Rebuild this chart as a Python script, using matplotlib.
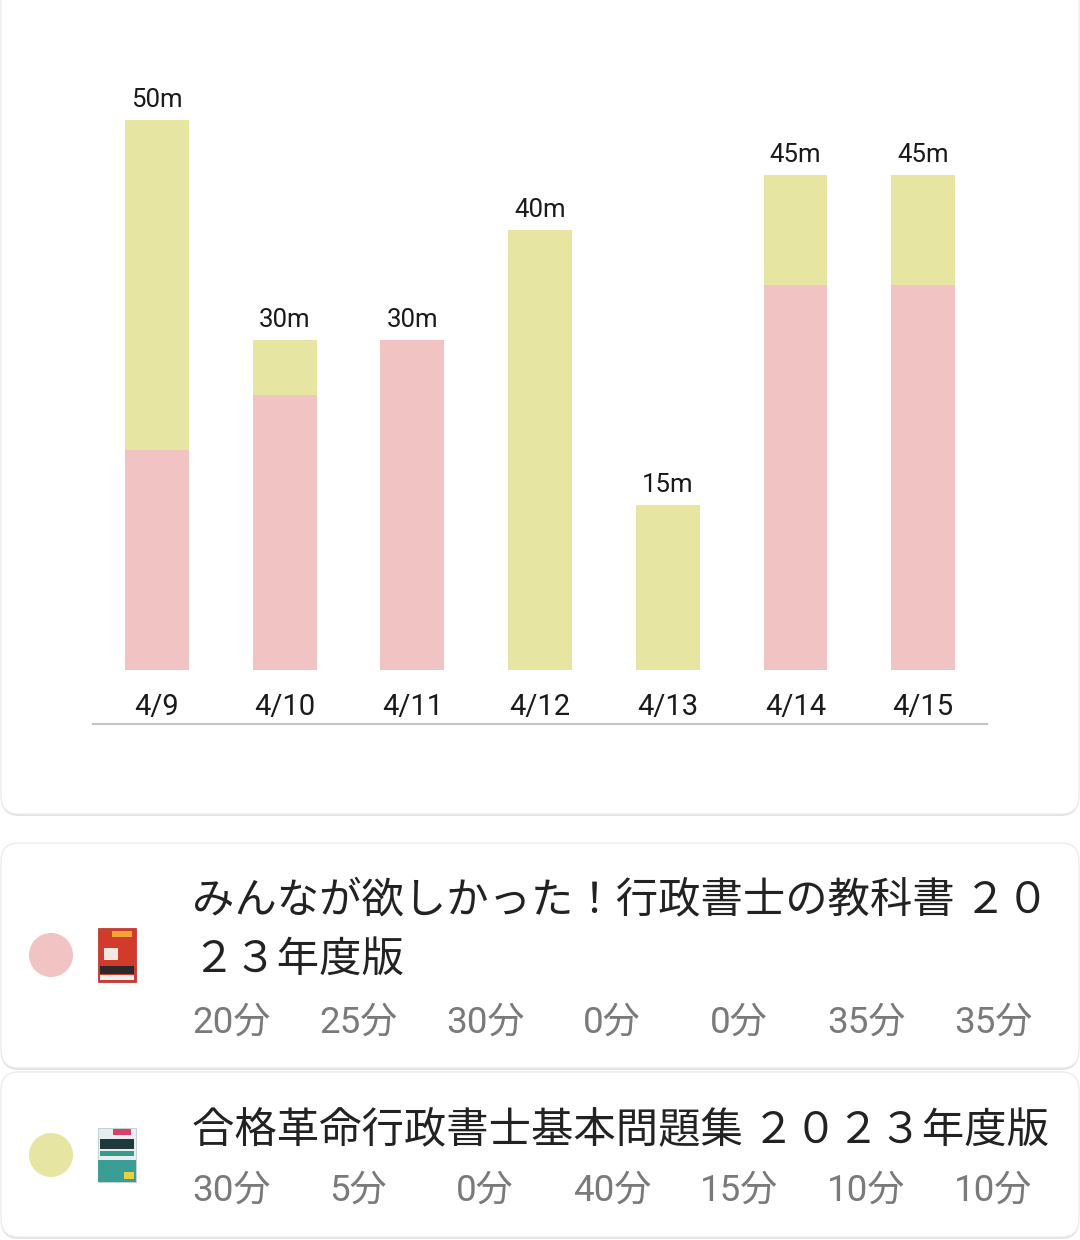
import matplotlib
matplotlib.use("Agg")
import matplotlib.pyplot as plt
from matplotlib.patches import FancyBboxPatch, Circle, Rectangle

# ---- data ----
dates = ["4/9", "4/10", "4/11", "4/12", "4/13", "4/14", "4/15"]
book1_minutes = [20, 25, 30, 0, 0, 35, 35]
book2_minutes = [30, 5, 0, 40, 15, 10, 10]
book1_title = ["みんなが欲しかった！行政書士の教科書 ２０", "２３年度版"]
book2_title = ["合格革命行政書士基本問題集 ２０２３年度版"]

PINK = "#F2C3C3"
YELLOW = "#E6E6A2"
W, H = 1080, 1240
DPI = 100

plt.rcParams['font.family'] = ['Roboto', 'Noto Sans CJK JP', 'DejaVu Sans']

fig = plt.figure(figsize=(W / DPI, H / DPI), dpi=DPI, facecolor="white")

# background axes in pixel coordinates
bg = fig.add_axes([0, 0, 1, 1])
bg.set_xlim(0, W)
bg.set_ylim(H, 0)
bg.axis("off")

def card(y0, y1, r=18):
    # shadow
    bg.add_patch(FancyBboxPatch((1, y0 + 2), W - 2, y1 - y0, boxstyle=f"round,pad=0,rounding_size={r}",
                                facecolor="#e2e2e2", edgecolor="none", zorder=0))
    bg.add_patch(FancyBboxPatch((1, y0), W - 2, y1 - y0, boxstyle=f"round,pad=0,rounding_size={r}",
                                facecolor="white", edgecolor="#ececec", linewidth=1, zorder=1))

card(-40, 814)
card(843, 1068)
card(1072, 1237)

# ---- chart ----
px_left, px_right = 93, 987
px_top, px_bottom = 60, 724
base_px = 670
ppm = 11.0  # pixels per minute
ax = fig.add_axes([px_left / W, (H - px_bottom) / H, (px_right - px_left) / W, (px_bottom - px_top) / H])
ax.set_facecolor("none")
ax.set_xlim(-0.5, len(dates) - 0.5)
ax.set_ylim(-(px_bottom - base_px) / ppm, (base_px - px_top) / ppm)
for s in ["top", "left", "right"]:
    ax.spines[s].set_visible(False)
ax.spines["bottom"].set_color("#c6c6c6")
ax.spines["bottom"].set_linewidth(1.5)
ax.set_xticks([])
ax.set_yticks([])

x = list(range(len(dates)))
ax.bar(x, book1_minutes, width=0.5, color=PINK, zorder=2)
ax.bar(x, book2_minutes, width=0.5, bottom=book1_minutes, color=YELLOW, zorder=2)

totals = [a + b for a, b in zip(book1_minutes, book2_minutes)]
for i, (d, t) in enumerate(zip(dates, totals)):
    ax.annotate(f"{t}m", (i, t), xytext=(0, 20), textcoords="offset pixels",
                ha="center", va="center", fontsize=18.5, color="#1a1a1a")
    ax.text(i, -37 / ppm, d, ha="center", va="center", fontsize=21, color="#1a1a1a")

# ---- list rows ----
bg.add_patch(Circle((51, 955), 22, facecolor=PINK, edgecolor="none", zorder=3))
bg.add_patch(Circle((51, 1155), 22, facecolor=YELLOW, edgecolor="none", zorder=3))

# book cover 1 (red)
bg.add_patch(Rectangle((98, 928), 38, 54, facecolor="#d23a2c", edgecolor="#b02a20", linewidth=0.5, zorder=3))
bg.add_patch(Rectangle((112, 931), 20, 6, facecolor="#f2a33a", edgecolor="none", zorder=4))
bg.add_patch(Rectangle((104, 948), 14, 12, facecolor="#f4e6e0", edgecolor="none", zorder=4))
bg.add_patch(Rectangle((100, 966), 34, 8, facecolor="#2a2a2a", edgecolor="none", zorder=4))
bg.add_patch(Rectangle((100, 975), 34, 5, facecolor="#f0f0f0", edgecolor="none", zorder=4))
# book cover 2 (light / teal)
bg.add_patch(Rectangle((98, 1128), 38, 54, facecolor="#e6eef0", edgecolor="#b0c0c4", linewidth=0.5, zorder=3))
bg.add_patch(Rectangle((113, 1129), 18, 6, facecolor="#d8406a", edgecolor="none", zorder=4))
bg.add_patch(Rectangle((100, 1139), 34, 10, facecolor="#1e3a3a", edgecolor="none", zorder=4))
bg.add_patch(Rectangle((100, 1151), 34, 5, facecolor="#3a9a8a", edgecolor="none", zorder=4))
bg.add_patch(Rectangle((98, 1160), 38, 22, facecolor="#3a9e94", edgecolor="none", zorder=4))
bg.add_patch(Rectangle((124, 1172), 10, 7, facecolor="#e8d040", edgecolor="none", zorder=5))

TITLE_FONT = ['Noto Sans CJK JP', 'DejaVu Sans']
TS = 30.5
bg.text(192, 900, book1_title[0], ha="left", va="center", fontsize=TS, color="#222222", family=TITLE_FONT, zorder=5)
bg.text(192, 960, book1_title[1], ha="left", va="center", fontsize=TS, color="#222222", family=TITLE_FONT, zorder=5)
bg.text(192, 1130, book2_title[0], ha="left", va="center", fontsize=TS, color="#222222", family=TITLE_FONT, zorder=5)

col_centers = [231 + i * 127 for i in range(len(dates))]
for cx, m in zip(col_centers, book1_minutes):
    bg.text(cx, 1023, f"{m}分", ha="center", va="center", fontsize=26.5, color="#7a7a7a",
            family=['Roboto', 'Noto Sans CJK JP'], zorder=5)
for cx, m in zip(col_centers, book2_minutes):
    bg.text(cx, 1191, f"{m}分", ha="center", va="center", fontsize=26.5, color="#7a7a7a",
            family=['Roboto', 'Noto Sans CJK JP'], zorder=5)

fig.savefig("out.png", dpi=DPI, facecolor="white")
